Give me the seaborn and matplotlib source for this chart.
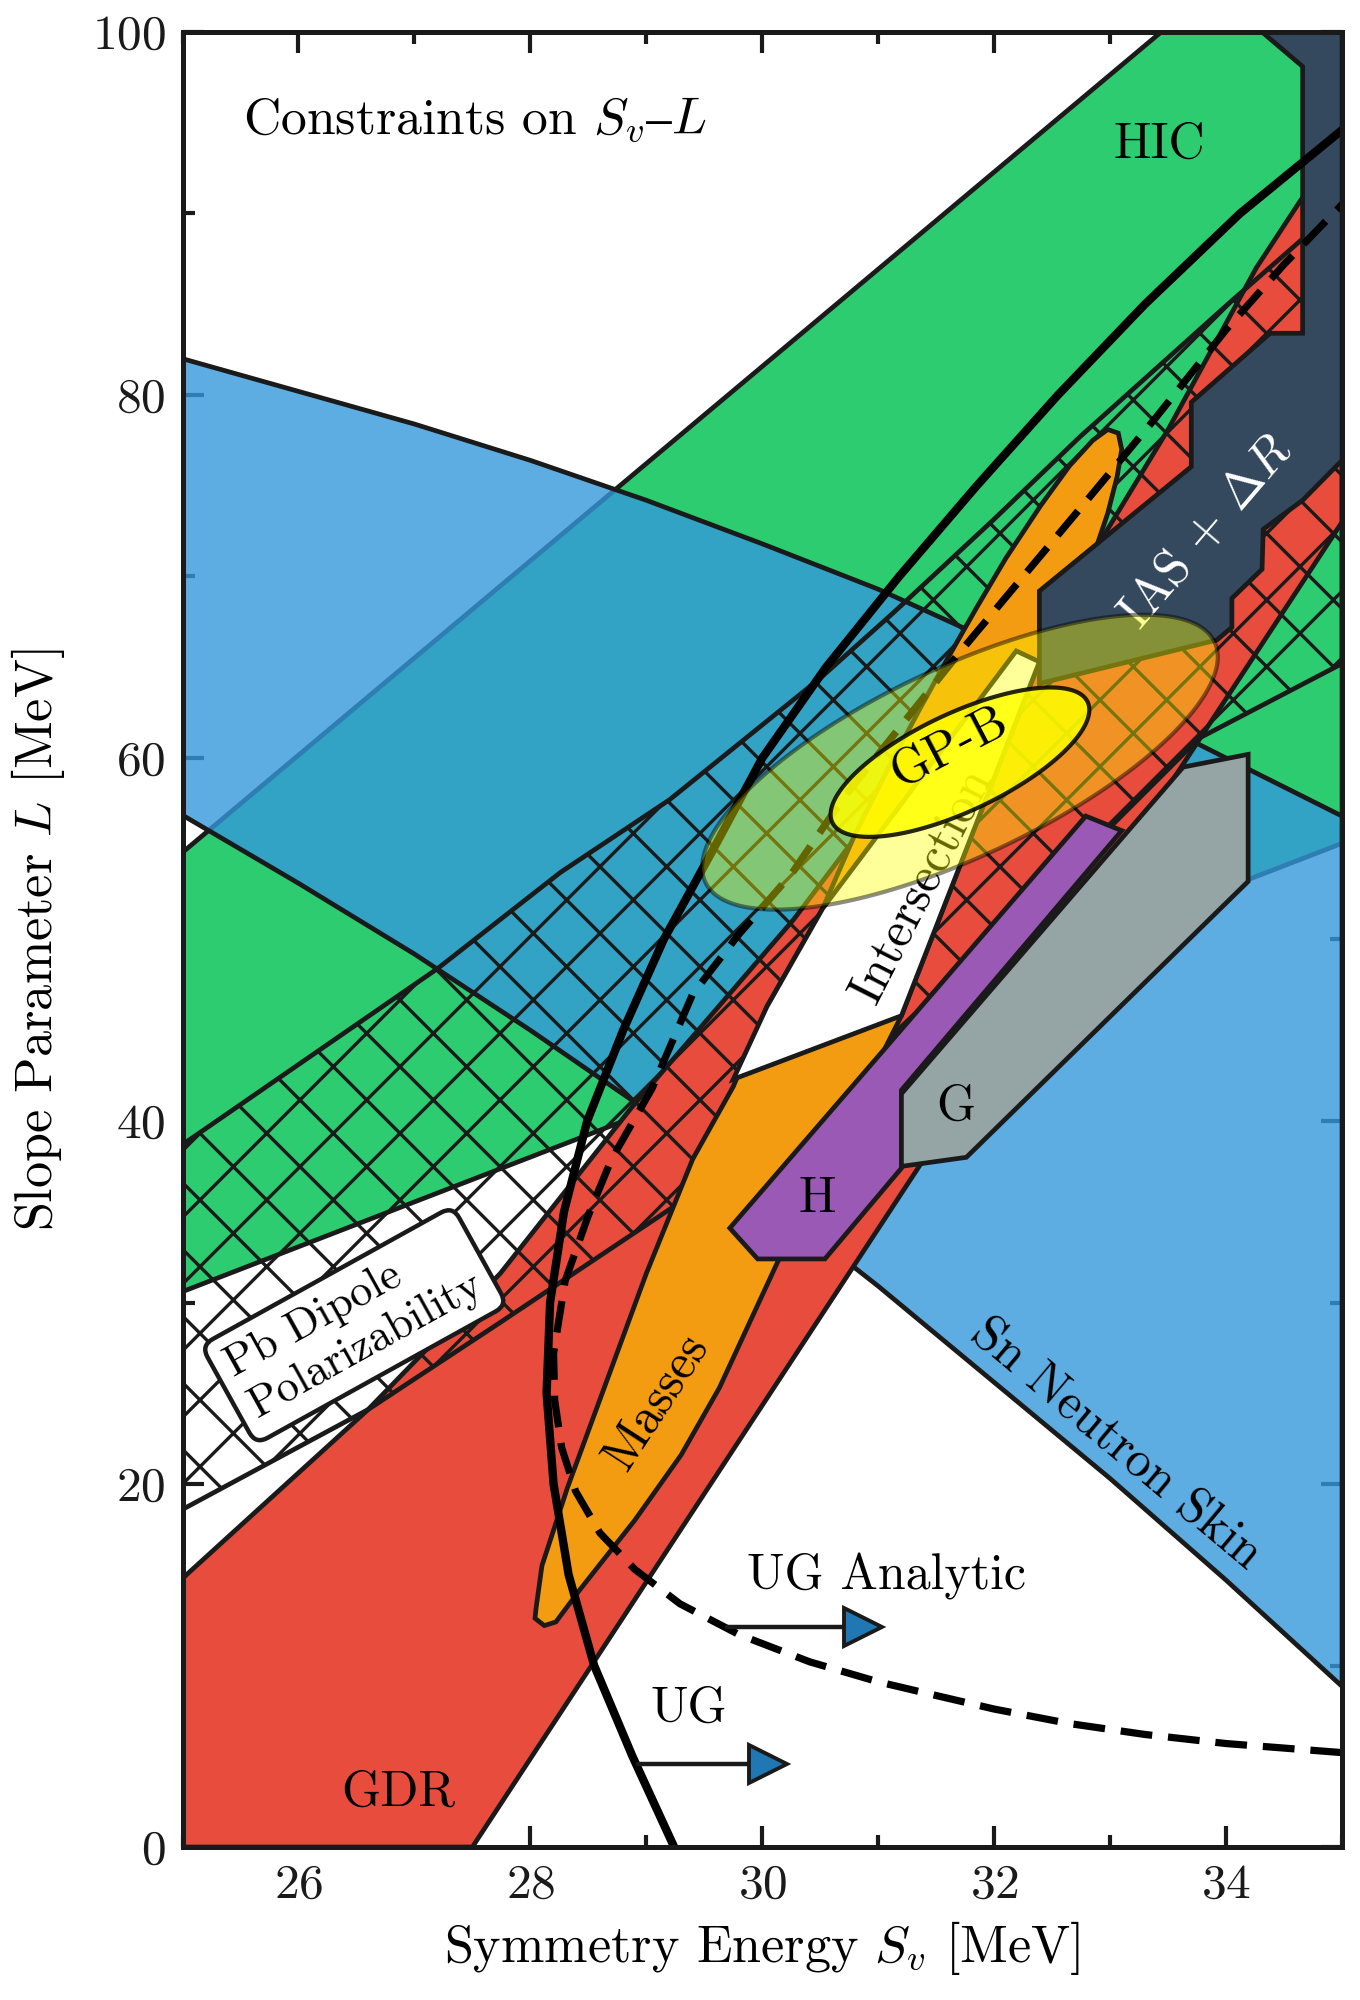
import numpy as np
import matplotlib
matplotlib.use("Agg")
import matplotlib.pyplot as plt
from matplotlib.ticker import MultipleLocator
import seaborn as sns

sns.set_theme(style="ticks")
plt.rcParams['font.family'] = ['cmr10', 'DejaVu Serif']
plt.rcParams['mathtext.fontset'] = 'cm'
plt.rcParams['axes.unicode_minus'] = False
plt.rcParams['axes.formatter.use_mathtext'] = True
plt.rcParams['hatch.linewidth'] = 0.6
plt.rcParams['hatch.color'] = 'black'
plt.rcParams['text.color'] = 'black'
plt.rcParams['axes.labelcolor'] = 'black'

# ---- constraint regions (S_v [MeV], L [MeV]) ----
hic_sv = [25, 33.44, 35, 35, 25]
hic_L = [54.8, 100, 100, 55.3, 30.6]

sn_sv = [25, 26, 27, 28, 29, 30, 31, 32, 33, 34, 35,
         35, 34, 33, 32, 31, 30, 29, 28, 27, 26, 25]
sn_L = [82.0, 80.2, 78.4, 76.4, 74.2, 71.8, 69.3, 66.4, 63.2, 60.0, 56.8,
        8.85, 14.7, 20.3, 25.6, 30.9, 35.9, 40.6, 45.0, 49.2, 53.1, 56.85]

gdr_sv = [25, 27.5, 35, 35, 34.64, 34.26, 33.5, 32.94, 31.5, 30.27, 28.88, 27.74, 26.6, 25]
gdr_L = [0, 0, 73, 94, 90.7, 87.0, 78.1, 72.2, 61.5, 51.1, 40.8, 31.6, 24.1, 14.8]

pb_sv = [25, 27.2, 28.26, 29.2, 30.5, 31.13, 31.99, 32.74, 34.05, 35,
         35, 33.77, 32.5, 31.0, 29.24, 27.74, 26.6, 25]
pb_L = [38.7, 48.4, 53.7, 57.7, 64.4, 68.0, 73.1, 77.7, 85.2, 90.5,
        65.2, 61.1, 53.0, 44.0, 35.3, 28.9, 24.1, 18.6]

mass_sv = [28.12, 28.22, 28.43, 28.9, 29.3, 29.63, 30.13, 31.2, 32.39, 32.88, 32.98,
           33.06, 33.1, 33.07, 32.98, 32.85, 32.65, 32.4, 32.1, 31.85, 31.6, 31.35,
           31.1, 30.8, 30.52, 30.04, 29.75, 29.4, 29.0, 28.66, 28.32, 28.1, 28.05, 28.04]
mass_L = [12.2, 12.4, 14.2, 18.0, 21.6, 25.3, 32.2, 45.8, 65.3, 71.6, 73.5,
          75.5, 77.0, 77.9, 78.1, 77.5, 76.1, 73.9, 71.0, 68.3, 65.5, 62.6,
          59.6, 55.8, 51.7, 46.3, 41.9, 37.9, 31.6, 25.7, 19.8, 15.5, 13.2, 12.6]

inter_sv = [29.75, 30.04, 30.52, 32.19, 32.39, 31.2]
inter_L = [42.3, 46.3, 51.7, 65.9, 65.3, 45.8]

h_sv = [29.72, 29.96, 30.54, 31.2, 31.2, 33.1, 32.79]
h_L = [34.1, 32.4, 32.4, 37.4, 41.7, 56.0, 56.8]

g_sv = [31.2, 31.2, 31.76, 34.19, 34.19, 33.63]
g_L = [41.5, 37.5, 38.0, 53.2, 60.2, 59.5]

ias_sv = [34.31, 35, 35, 34.66, 34.32, 34.31, 34.05, 34.05, 33.92, 32.39, 32.39,
          33.7, 33.7, 34.38, 34.66, 34.66]
ias_L = [100, 100, 76.4, 74.2, 72.6, 70.4, 68.8, 67.2, 66.5, 64.1, 69.2,
         76.05, 79.6, 83.4, 83.4, 98.1]

# unitary gas bound (solid) and its analytic version (dashed)
ug_sv = [29.24, 28.88, 28.55, 28.33, 28.2, 28.14, 28.17, 28.29, 28.49, 28.8, 29.15,
         29.58, 30.0, 30.55, 31.18, 31.85, 32.55, 33.3, 34.12, 35]
ug_L = [0, 5, 10, 15, 20, 25, 30, 35, 40, 45, 50,
        55, 60, 65, 70, 75, 80, 85, 90, 94.6]

uga_sv = [35, 34, 33.3, 32.65, 32.0, 31.53, 31.0, 30.41, 29.8, 29.29, 28.9, 28.6, 28.39,
          28.27, 28.21, 28.2, 28.3, 28.5, 28.7, 29.05, 29.4, 29.8, 30.25, 30.7, 31.2,
          31.7, 32.25, 32.8, 33.4, 34.0, 34.5, 35]
uga_L = [5.2, 5.7, 6.2, 6.8, 7.6, 8.3, 9.1, 10.2, 11.7, 13.4, 15.3, 17.3, 19.6,
         22.0, 24.6, 27.2, 31.2, 34.8, 37.9, 41.8, 47.0, 50.3, 53.6, 57.8, 61.8,
         65.8, 70.0, 74.2, 78.8, 83.6, 87.2, 90.5]

# ellipses: centre and conjugate semi-axis vectors in data units
ell_center = (31.705, 59.77)
big_major = (2.196, 6.616)
big_minor = (-0.348, 4.716)
gpb_major = (1.101, 3.319)
gpb_minor = (-0.180, 2.434)

# arrows for the unitary-gas bounds
arrow_start = [28.93, 29.70]
arrow_tip = [30.05, 30.87]
arrow_L = [4.6, 12.1]


def ellipse(c, u, v, n=240):
    t = np.linspace(0, 2 * np.pi, n)
    return (c[0] + u[0] * np.cos(t) + v[0] * np.sin(t),
            c[1] + u[1] * np.cos(t) + v[1] * np.sin(t))


fig = plt.figure(figsize=(3.4, 5.0), dpi=400)
ax = fig.add_axes([0.1342, 0.0765, 0.8526, 0.9075])

lw = 0.85
ax.fill(hic_sv, hic_L, fc='#2ECC71', ec='k', lw=lw, zorder=1)
ax.fill(sn_sv, sn_L, fc=(0.204, 0.596, 0.859, 0.8), ec='k', lw=lw, zorder=2)
ax.fill(gdr_sv, gdr_L, fc='#E74C3C', ec='k', lw=lw, zorder=3)
ax.fill(pb_sv, pb_L, fc='none', ec='k', hatch='xx', lw=lw, zorder=4)
ax.fill(mass_sv, mass_L, fc='#F39C12', ec='k', lw=lw, zorder=5)
ax.fill(inter_sv, inter_L, fc='white', ec='k', lw=lw, zorder=6)
ax.fill(h_sv, h_L, fc='#9B59B6', ec='k', lw=lw, zorder=6)
ax.fill(g_sv, g_L, fc='#95A5A6', ec='k', lw=lw, zorder=7)
ax.fill(ias_sv, ias_L, fc='#34495E', ec='k', lw=lw, zorder=8)

sns.lineplot(x=ug_sv, y=ug_L, sort=False, estimator=None, color='black', lw=1.5, ax=ax, zorder=9)
sns.lineplot(x=uga_sv, y=uga_L, sort=False, estimator=None, color='black', lw=1.3,
             ax=ax, zorder=9)
ax.lines[-1].set_dashes([4.4, 2.2])

ex, ey = ellipse(ell_center, big_major, big_minor)
ax.fill(ex, ey, fc=(1, 1, 0, 0.4), ec=(0, 0, 0, 0.45), lw=0.75, zorder=10)
gx, gy = ellipse(ell_center, gpb_major, gpb_minor)
ax.fill(gx, gy, fc=(1, 1, 0, 0.85), ec=(0, 0, 0, 0.85), lw=0.75, zorder=11)

for x0, x1, yy in zip(arrow_start, arrow_tip, arrow_L):
    ax.plot([x0, x1], [yy, yy], color='k', lw=0.8, zorder=12)
    ax.plot([x1], [yy], marker='>', ms=7, mfc='#1F77B4', mec='k', mew=0.7, zorder=13)

fs = 9
txt = dict(ha='center', va='center', rotation_mode='anchor', fontsize=fs, color='black')
ax.text(33.42, 93.8, 'HIC', zorder=12, **txt)
ax.text(26.86, 3.0, 'GDR', zorder=12, **txt)
ax.text(31.67, 40.8, 'G', zorder=12, **txt)
ax.text(30.47, 35.7, 'H', zorder=12, **txt)
ax.text(31.61, 60.6, 'GP-B', rotation=27.5, zorder=12, **txt)
ax.text(31.38, 53.0, 'Intersection', rotation=63, zorder=9.5, **txt)
ax.text(29.09, 24.5, 'Masses', rotation=57, zorder=12, **txt)
ax.text(33.83, 72.4, r'IAS $+$ $\Delta R$', rotation=49.5, zorder=9.5,
        **{**txt, 'color': 'white'})
ax.text(33.05, 22.2, 'Sn Neutron Skin', rotation=-40, zorder=12, **txt)
ax.text(31.07, 14.9, 'UG Analytic', zorder=12, **txt)
ax.text(29.37, 7.6, 'UG', zorder=12, **txt)
ax.text(26.48, 28.76, 'Pb Dipole\nPolarizability', rotation=29, ha='center', va='center',
        multialignment='left', rotation_mode='anchor', fontsize=8, zorder=14,
        bbox=dict(boxstyle='round,pad=0.3', fc='white', ec='k', lw=0.8))
ax.text(0.052, 0.951, r'Constraints on $S_v$$–$$L$', transform=ax.transAxes,
        ha='left', va='center', fontsize=9.3, zorder=14)

ax.set_xlim(25, 35)
ax.set_ylim(0, 100)
ax.xaxis.set_major_locator(MultipleLocator(2))
ax.xaxis.set_minor_locator(MultipleLocator(1))
ax.yaxis.set_major_locator(MultipleLocator(20))
ax.yaxis.set_minor_locator(MultipleLocator(10))
ax.tick_params(which='both', direction='in', top=True, right=True, width=0.75,
               labelsize=8.9, colors='k', zorder=20)
ax.tick_params(which='major', length=3.8, pad=3)
ax.tick_params(which='minor', length=2.2)
for s in ax.spines.values():
    s.set_linewidth(0.9)
    s.set_color('k')
    s.set_zorder(20)
ax.set_xlabel(r'Symmetry Energy $S_v$ [MeV]', fontsize=9.4, labelpad=2)
ax.set_ylabel(r'Slope Parameter $L$ [MeV]', fontsize=9.4, labelpad=4.5)

fig.savefig('out.png', dpi=400)
